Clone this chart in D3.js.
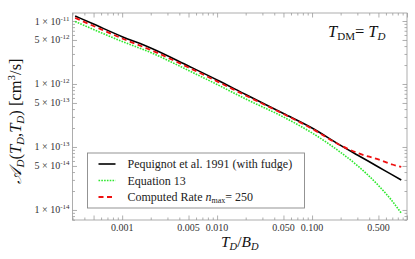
<!DOCTYPE html>
<html>
<head>
<meta charset="utf-8">
<script src="https://cdn.jsdelivr.net/npm/d3@7"></script>
<style>
  html, body { margin: 0; padding: 0; background: #fff; }
  svg { display: block; }
  svg text { font-family: "Liberation Serif", "Times New Roman", "DejaVu Serif", serif; }
</style>
</head>
<body>
<div id="chart"></div>
<script>
// values
const ratioTB = [3.2e-4, 5e-4, 1e-3, 2e-3, 5e-3, 1e-2, 2e-2, 5e-2, 0.1, 0.2, 0.3, 0.5, 0.7, 0.87];
const pequignot = [1.20e-11, 8.93e-12, 5.64e-12, 3.73e-12, 1.93e-12, 1.16e-12, 6.81e-13, 3.40e-13, 2.0e-13, 1.06e-13, 7.46e-14, 4.82e-14, 3.6e-14, 2.99e-14];
const equation13 = [9.82e-12, 7.33e-12, 4.73e-12, 3.16e-12, 1.64e-12, 9.82e-13, 5.78e-13, 2.99e-13, 1.67e-13, 8.20e-14, 5.07e-14, 2.45e-14, 1.38e-14, 8.9e-15];
const computed = [1.12e-11, 8.33e-12, 5.28e-12, 3.47e-12, 1.83e-12, 1.10e-12, 6.56e-13, 3.34e-13, 1.95e-13, 1.06e-13, 8.04e-14, 6.34e-14, 5.27e-14, 4.82e-14];

const xLabelTicks = [0.001, 0.005, 0.01, 0.05, 0.1, 0.5];
const xLabelText = ["0.001", "0.005", "0.010", "0.050", "0.100", "0.500"];
const yLabelTicks = [1e-11, 5e-12, 1e-12, 5e-13, 1e-13, 5e-14, 1e-14];
const yLabelMant = ["1", "5", "1", "5", "1", "5", "1"];
const yLabelExp = ["-11", "-12", "-12", "-13", "-13", "-14", "-14"];

const legendNames = ["Pequignot et al. 1991 (with fudge)", "Equation 13", "Computed Rate "];

const W = 415, H = 259;
const margin = {top: 13, right: 8, bottom: 39, left: 72.5};
const width = W - margin.left - margin.right;
const height = H - margin.top - margin.bottom;

const xScale = d3.scaleLog().domain([3.0e-4, 1.0]).range([0, width]);
const yScale = d3.scaleLog().domain([6.93e-15, 1.34e-11]).range([height, 0]);

const svg = d3.select("#chart").append("svg")
    .attr("width", W)
    .attr("height", H);

const plot = svg.append("g")
    .attr("transform", `translate(${margin.left},${margin.top})`);

// minor / major tick lists on log decades
function logTicks(lo, hi) {
    const out = [];
    for (let e = Math.floor(Math.log10(lo)); e <= Math.ceil(Math.log10(hi)); e++) {
        for (let m = 1; m < 10; m++) {
            const v = m * Math.pow(10, e);
            if (v >= lo && v <= hi) out.push(v);
        }
    }
    return out;
}
const xAll = logTicks(3.0e-4, 1.0);
const yAll = logTicks(6.93e-15, 1.34e-11);
const isMajor = v => {
    const m = Math.round(v / Math.pow(10, Math.floor(Math.log10(v) + 1e-9)));
    return m === 1 || m === 5;
};
const xMinor = xAll.filter(v => !isMajor(v)), xMajor = xAll.filter(isMajor);
const yMinor = yAll.filter(v => !isMajor(v)), yMajor = yAll.filter(isMajor);

const frameColor = "#9a9a9a";

function addAxis(axisFn, scale, values, size, transform) {
    const g = plot.append("g")
        .attr("transform", transform)
        .call(axisFn(scale).tickValues(values).tickSizeInner(-size).tickSizeOuter(0).tickFormat(""));
    g.select(".domain").remove();
    g.selectAll("line").attr("stroke", frameColor).attr("stroke-width", 0.8);
}
// bottom / top
addAxis(d3.axisBottom, xScale, xMajor, 4.5, `translate(0,${height})`);
addAxis(d3.axisBottom, xScale, xMinor, 2.5, `translate(0,${height})`);
addAxis(d3.axisTop, xScale, xMajor, 4.5, "translate(0,0)");
addAxis(d3.axisTop, xScale, xMinor, 2.5, "translate(0,0)");
// left / right
addAxis(d3.axisLeft, yScale, yMajor, 4.5, "translate(0,0)");
addAxis(d3.axisLeft, yScale, yMinor, 2.5, "translate(0,0)");
addAxis(d3.axisRight, yScale, yMajor, 4.5, `translate(${width},0)`);
addAxis(d3.axisRight, yScale, yMinor, 2.5, `translate(${width},0)`);

plot.append("rect")
    .attr("width", width).attr("height", height)
    .attr("fill", "none").attr("stroke", frameColor).attr("stroke-width", 0.8);

// tick labels
plot.append("g").selectAll("text")
    .data(xLabelTicks)
    .join("text")
    .attr("x", d => xScale(d))
    .attr("y", height + 11)
    .attr("text-anchor", "middle")
    .attr("font-size", 10)
    .attr("fill", "#333")
    .text((d, i) => xLabelText[i]);

const yl = plot.append("g").selectAll("text")
    .data(yLabelTicks)
    .join("text")
    .attr("x", -3)
    .attr("y", d => yScale(d) + 3.5)
    .attr("text-anchor", "end")
    .attr("font-size", 10)
    .attr("fill", "#333");
yl.append("tspan").text((d, i) => yLabelMant[i] + " \u00d7 10");
yl.append("tspan").attr("dy", -4).attr("font-size", 7).text((d, i) => yLabelExp[i]);

// curves
const line = d3.line()
    .x(d => xScale(d[0]))
    .y(d => yScale(d[1]))
    .curve(d3.curveMonotoneX);

const series = [
    {vals: pequignot, color: "#000", width: 1.6, dash: null},
    {vals: equation13, color: "#2ee82e", width: 1.6, dash: "1.6,1.2"},
    {vals: computed, color: "#ee1111", width: 1.8, dash: "5,3.5"}
];

plot.append("g").selectAll("path")
    .data(series)
    .join("path")
    .attr("d", s => line(ratioTB.map((x, i) => [x, s.vals[i]])))
    .attr("fill", "none")
    .attr("stroke", s => s.color)
    .attr("stroke-width", s => s.width)
    .attr("stroke-dasharray", s => s.dash);

// legend
const leg = svg.append("g").attr("transform", "translate(87.5,153)");
leg.append("rect")
    .attr("width", 217).attr("height", 55)
    .attr("fill", "#fff").attr("stroke", "#888").attr("stroke-width", 0.9);
const rows = leg.selectAll("g.row")
    .data(series)
    .join("g")
    .attr("class", "row")
    .attr("transform", (d, i) => `translate(0,${11 + i * 16.5})`);
rows.append("line")
    .attr("x1", 11).attr("x2", 28).attr("y1", 0).attr("y2", 0)
    .attr("stroke", s => s.color)
    .attr("stroke-width", s => s.width)
    .attr("stroke-dasharray", s => s.dash);
const rowText = rows.append("text")
    .attr("x", 40).attr("y", 4)
    .attr("font-size", 12)
    .attr("fill", "#222")
    .text((d, i) => legendNames[i]);
rowText.filter((d, i) => i === 2).each(function() {
    const t = d3.select(this);
    t.append("tspan").attr("font-style", "italic").text("n");
    t.append("tspan").attr("font-size", 8).attr("dy", 2).text("max");
    t.append("tspan").attr("dy", -2).text("= 250");
});

// annotation T_DM = T_D
const ann = svg.append("text")
    .attr("x", 328).attr("y", 37)
    .attr("font-size", 16.5)
    .attr("fill", "#111");
ann.append("tspan").attr("font-style", "italic").text("T");
ann.append("tspan").attr("font-size", 11).attr("dy", 3).text("DM");
ann.append("tspan").attr("dy", -3).text("= ");
ann.append("tspan").attr("font-style", "italic").text("T");
ann.append("tspan").attr("font-style", "italic").attr("font-size", 11).attr("dy", 3).text("D");

// x axis title
const xt = svg.append("text")
    .attr("x", margin.left + width / 2)
    .attr("y", 247)
    .attr("text-anchor", "middle")
    .attr("font-size", 15.5)
    .attr("fill", "#111");
xt.append("tspan").attr("font-style", "italic").text("T");
xt.append("tspan").attr("font-style", "italic").attr("font-size", 10.5).attr("dy", 3).text("D");
xt.append("tspan").attr("dy", -3).text("/");
xt.append("tspan").attr("font-style", "italic").text("B");
xt.append("tspan").attr("font-style", "italic").attr("font-size", 10.5).attr("dy", 3).text("D");

// y axis title
const yt = svg.append("text")
    .attr("transform", "translate(21,121) rotate(-90)")
    .attr("text-anchor", "middle")
    .attr("font-size", 16.5)
    .attr("fill", "#111");
yt.append("tspan").attr("font-style", "italic").text("\u{1D49C}");
yt.append("tspan").attr("font-style", "italic").attr("font-size", 11).attr("dy", 3).text("D");
yt.append("tspan").attr("dy", -3).text("(");
yt.append("tspan").attr("font-style", "italic").text("T");
yt.append("tspan").attr("font-style", "italic").attr("font-size", 11).attr("dy", 3).text("D");
yt.append("tspan").attr("dy", -3).text(",");
yt.append("tspan").attr("font-style", "italic").text("T");
yt.append("tspan").attr("font-style", "italic").attr("font-size", 11).attr("dy", 3).text("D");
yt.append("tspan").attr("dy", -3).text(") [cm");
yt.append("tspan").attr("font-size", 11).attr("dy", -6).text("3");
yt.append("tspan").attr("dy", 6).text("/s]");
</script>
</body>
</html>
